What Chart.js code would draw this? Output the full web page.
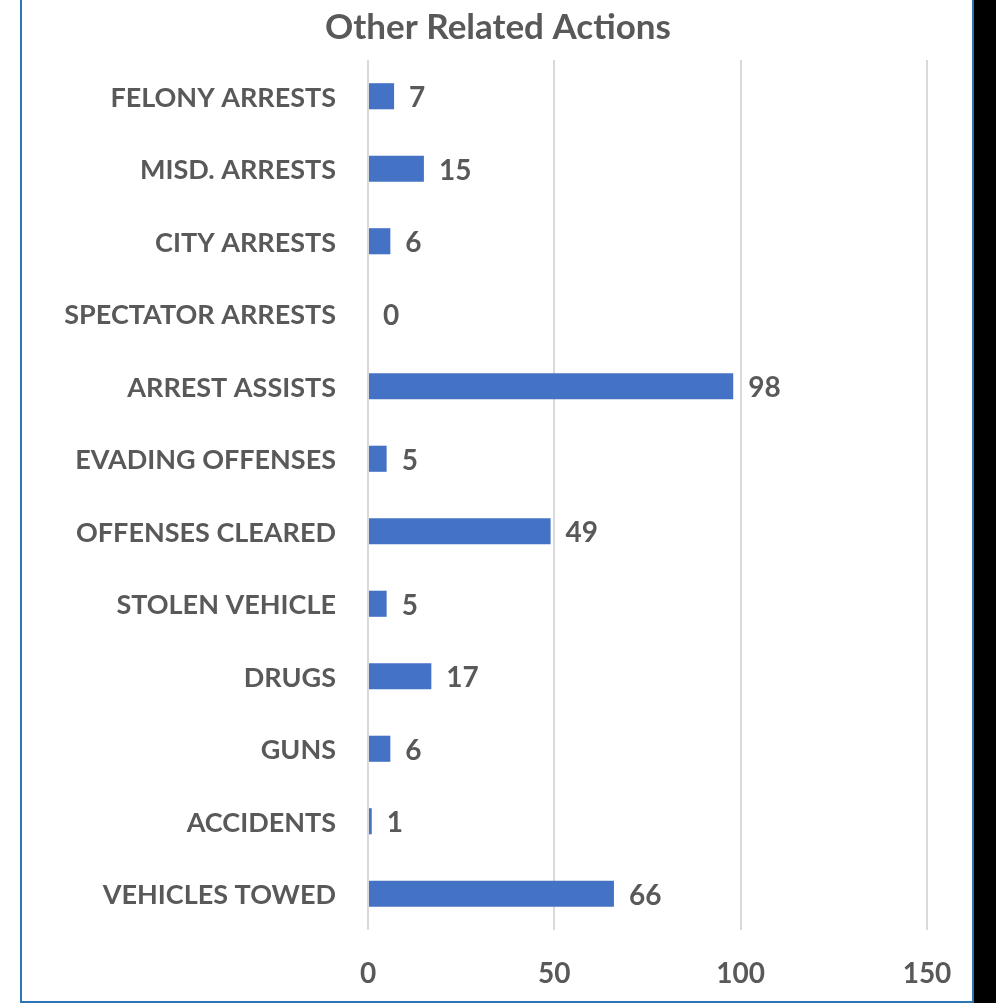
<!DOCTYPE html>
<html>
<head>
<meta charset="utf-8">
<script src="https://cdn.jsdelivr.net/npm/chart.js@4"></script>
<style>
  html, body { margin: 0; padding: 0; overflow: hidden; background: #fff; }
  #frame { position: absolute; left: 20px; top: -10px; width: 950px; height: 1009px; border: 2px solid #2e75b6; }
  canvas { position: absolute; left: 0; top: 0; }
</style>
</head>
<body>
<div id="frame"></div>
<canvas id="chart" width="996" height="1003"></canvas>
<script>
// Other Related Actions - horizontal bar chart
const categories = [
  'FELONY ARRESTS', 'MISD. ARRESTS', 'CITY ARRESTS', 'SPECTATOR ARRESTS',
  'ARREST ASSISTS', 'EVADING OFFENSES', 'OFFENSES CLEARED', 'STOLEN VEHICLE',
  'DRUGS', 'GUNS', 'ACCIDENTS', 'VEHICLES TOWED'
];
const counts = [7, 15, 6, 0, 98, 5, 49, 5, 17, 6, 1, 66];
const xTicks = [0, 50, 100, 150];
const chartTitle = 'Other Related Actions';

const TEXT_COLOR = '#595959';
const BAR_COLOR = '#4472c4';
const FONT = 'Lato';

// title centred on the framed box, black strip on the right edge
const frameDecor = {
  id: 'frameDecor',
  afterDraw(chart) {
    const ctx = chart.ctx;
    ctx.save();
    ctx.fillStyle = '#000';
    ctx.fillRect(974, 0, 22, chart.height);
    ctx.font = 'bold 35px ' + FONT;
    ctx.fillStyle = TEXT_COLOR;
    ctx.textAlign = 'center';
    ctx.textBaseline = 'middle';
    ctx.fillText(chartTitle, 498, 28);
    ctx.restore();
  }
};

// draw the value next to each bar end
const valueLabels = {
  id: 'valueLabels',
  afterDatasetsDraw(chart) {
    const ctx = chart.ctx;
    const meta = chart.getDatasetMeta(0);
    ctx.save();
    ctx.font = 'bold 28px ' + FONT;
    ctx.fillStyle = TEXT_COLOR;
    ctx.textAlign = 'left';
    ctx.textBaseline = 'middle';
    meta.data.forEach((bar, i) => {
      ctx.fillText(String(counts[i]), bar.x + 15, bar.y + 2);
    });
    ctx.restore();
  }
};

new Chart(document.getElementById('chart').getContext('2d'), {
  type: 'bar',
  data: {
    labels: categories,
    datasets: [{
      data: counts,
      backgroundColor: BAR_COLOR,
      borderWidth: 0,
      barPercentage: 0.36,
      categoryPercentage: 1
    }]
  },
  options: {
    indexAxis: 'y',
    responsive: false,
    animation: false,
    layout: { padding: { left: 0, right: 69, top: 60, bottom: 0 } },
    plugins: {
      legend: { display: false },
      tooltip: { enabled: false },
      title: { display: false }
    },
    scales: {
      x: {
        min: 0,
        max: 150,
        afterBuildTicks: scale => { scale.ticks = xTicks.map(v => ({ value: v })); },
        afterFit: scale => { scale.height = 73; },
        grid: { color: '#d9d9d9', lineWidth: 2, drawTicks: false },
        border: { display: false },
        ticks: {
          color: TEXT_COLOR,
          padding: 27,
          font: { family: FONT, size: 28, weight: 'bold' }
        }
      },
      y: {
        afterFit: scale => { scale.width = 368; },
        grid: { display: false, drawTicks: false },
        border: { display: false },
        ticks: {
          color: TEXT_COLOR,
          padding: 32,
          labelOffset: 2,
          font: { family: FONT, size: 27, weight: 'bold' }
        }
      }
    }
  },
  plugins: [valueLabels, frameDecor]
});
</script>
</body>
</html>
